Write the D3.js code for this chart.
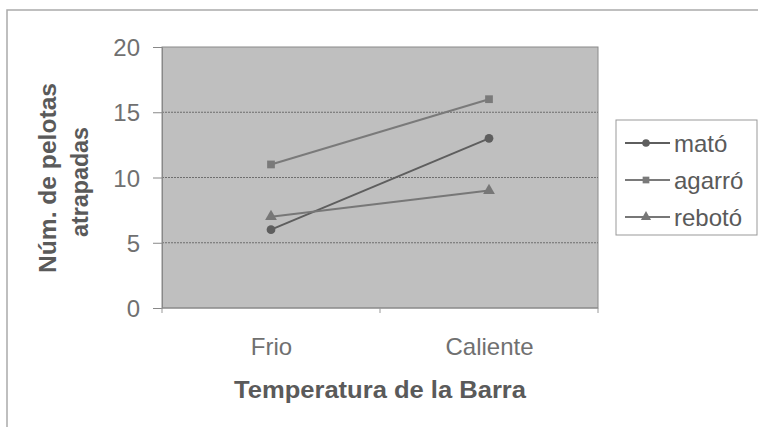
<!DOCTYPE html>
<html><head><meta charset="utf-8">
<script src="https://cdn.jsdelivr.net/npm/d3@7"></script>
<style>body{margin:0;background:#fff}svg{display:block}text{font-family:"Liberation Sans",Arial,sans-serif}</style>
</head><body>
<svg id="c" width="758" height="427"></svg>
<script>
const categories = ["Frio", "Caliente"];
const seriesNames = ["mató", "agarró", "rebotó"];
const mato = [6, 13];
const agarro = [11, 16];
const reboto = [7, 9];
const yTicks = [0, 5, 10, 15, 20];
const markers = ["circle", "square", "triangle"];

const svg = d3.select("#c");
const m = {l:162, t:47, r:598, b:308};
// outer frame
svg.append("rect").attr("x",7).attr("y",10).attr("width",760).attr("height",430)
  .attr("fill","#fff").attr("stroke","#aaa").attr("stroke-width",1.5);

const x = d3.scalePoint().domain(categories).range([m.l, m.r]).padding(0.5);
const xb = d3.scaleBand().domain(categories).range([m.l, m.r]);
const y = d3.scaleLinear().domain([0,20]).range([m.b, m.t]);

svg.append("rect").attr("x",m.l).attr("y",m.t).attr("width",m.r-m.l).attr("height",m.b-m.t)
  .attr("fill","#bfbfbf").attr("stroke","#8a8a8a").attr("stroke-width",1);

// gridlines
svg.append("g").selectAll("line").data(yTicks.filter(d=>d>0 && d<20)).join("line")
  .attr("x1",m.l).attr("x2",m.r).attr("y1",d=>y(d)).attr("y2",d=>y(d))
  .attr("stroke","#6e6e6e").attr("stroke-width",1).attr("stroke-dasharray","2,1");

// y axis
const ya = svg.append("g").attr("transform",`translate(${m.l},0)`)
  .call(d3.axisLeft(y).tickValues(yTicks).tickSize(9).tickPadding(13));
ya.select(".domain").attr("stroke","#888");
ya.selectAll(".tick line").attr("stroke","#888");
ya.selectAll("text").attr("fill","#707070").style("font-size","24px").attr("dy","0.36em");

// x axis
const xa = svg.append("g").attr("transform",`translate(0,${m.b})`)
  .call(d3.axisBottom(x).tickSize(0).tickPadding(30));
xa.select(".domain").attr("stroke","#888").attr("d",`M${m.l},0H${m.r}`);
xa.selectAll("text").attr("fill","#707070").style("font-size","24px");
svg.append("g").selectAll("line").data([m.l, ...categories.map(c=>xb(c)+xb.bandwidth())]).join("line")
  .attr("x1",d=>d).attr("x2",d=>d).attr("y1",m.b).attr("y2",m.b+5).attr("stroke","#999");

// series
const data = [mato, agarro, reboto];
const line = d3.line().x((d,i)=>x(categories[i])).y(d=>y(d));
const sym = {circle:d3.symbolCircle, square:d3.symbolSquare, triangle:d3.symbolTriangle};
const colors = ["#5e5e5e","#7a7a7a","#777"];
data.forEach((s,k)=>{
  svg.append("path").datum(s).attr("d",line).attr("fill","none")
    .attr("stroke",colors[k]).attr("stroke-width",2);
  svg.append("g").selectAll("path").data(s).join("path")
    .attr("transform",(d,i)=>`translate(${x(categories[i])},${y(d)})`)
    .attr("d",d3.symbol(sym[markers[k]], 60)).attr("fill",colors[k]);
});

// axis titles
svg.append("text").attr("x",380).attr("y",398).attr("text-anchor","middle")
  .attr("fill","#5a5a5a").style("font-size","24px").style("font-weight","bold")
  .attr("textLength",292).attr("lengthAdjust","spacingAndGlyphs")
  .text("Temperatura de la Barra");
const yt = svg.append("g").attr("transform","translate(0,178) rotate(-90)");
yt.append("text").attr("x",0).attr("y",56).attr("text-anchor","middle")
  .attr("fill","#5a5a5a").style("font-size","24px").style("font-weight","bold")
  .attr("textLength",190).attr("lengthAdjust","spacingAndGlyphs").text("Núm. de pelotas");
yt.append("text").attr("x",-4).attr("y",88).attr("text-anchor","middle")
  .attr("fill","#5a5a5a").style("font-size","24px").style("font-weight","bold")
  .attr("textLength",110).attr("lengthAdjust","spacingAndGlyphs").text("atrapadas");

// legend
const lg = svg.append("g");
lg.append("rect").attr("x",616).attr("y",120).attr("width",141).attr("height",115)
  .attr("fill","#fff").attr("stroke","#999").attr("stroke-width",1);
seriesNames.forEach((n,k)=>{
  const yy = 143 + k*37;
  lg.append("line").attr("x1",625).attr("x2",670).attr("y1",yy).attr("y2",yy)
    .attr("stroke",colors[k]).attr("stroke-width",2);
  lg.append("path").attr("transform",`translate(646,${yy})`)
    .attr("d",d3.symbol(sym[markers[k]],45)).attr("fill",colors[k]);
  lg.append("text").attr("x",674).attr("y",yy).attr("dy","0.36em")
    .attr("fill","#5a5a5a").style("font-size","24px").text(n);
});
</script>
</body></html>
